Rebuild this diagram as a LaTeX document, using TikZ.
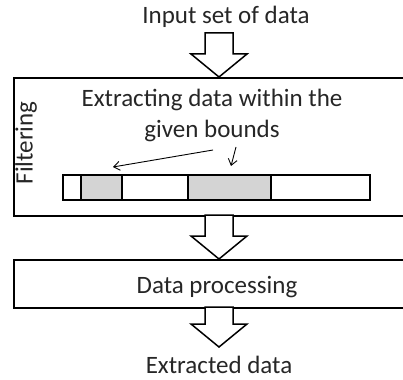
\documentclass[tikz,border=0pt]{standalone}
\usepackage{fontspec}
\setmainfont{Carlito}
\usetikzlibrary{arrows.meta,calc}
\tikzset{
  lbl/.style={font=\fontsize{25}{30}\selectfont, inner sep=0pt, anchor=base, text=black!85},
  stage/.style={draw, line width=1.8pt, anchor=north west, inner sep=0pt},
  cell/.style={draw, line width=1.6pt, anchor=north west, inner sep=0pt, minimum height=25},
  hole/.style={cell, fill=black!17},
  blockarr/.style={draw, line width=1.5pt, fill=white, line join=miter},
  pointer/.style={line width=0.9pt, -{Straight Barb[length=6pt,width=9pt]}},
}
% block arrow: shaft from #1 down to the tip at #2
\newcommand\blockarrow[2]{%
  \draw[blockarr] let \p1=(#1), \p2=(#2) in
    (\x2-14pt,\y1) -- (\x2+14pt,\y1) -- (\x2+14pt,\y2+23pt) -- (\x2+28pt,\y2+23pt)
    -- (\x2,\y2) -- (\x2-28pt,\y2+23pt) -- (\x2-14pt,\y2+23pt) -- cycle;}
\begin{document}
\begin{tikzpicture}[x=1pt,y=-1pt]
\clip (0,0) rectangle (403,379);

% stages
\node[stage, minimum width=420, minimum height=138] (filter) at (13,77) {};
\node[stage, minimum width=420, minimum height=48] (proc) at (13,259) {};

% texts
\node[lbl] (input) at (226,24) {Input set of data};
\node[lbl] (ext1) at (212,107) {Extracting data within the};
\node[lbl] (ext2) at (212,138) {given bounds};
\node[lbl, anchor=center, rotate=90] (filt) at (26,143) {Filtering};
\node[lbl] (dp) at (217,293) {Data processing};
\node[lbl] (out) at (219,373) {Extracted data};

% data bar
\node[cell, minimum width=18] (c1) at (62,174) {};
\node[hole, minimum width=41] (c2) at (80,174) {};
\node[cell, minimum width=66] (c3) at (121,174) {};
\node[hole, minimum width=83] (c4) at (187,174) {};
\node[cell, minimum width=99] (c5) at (270,174) {};

% pointers to the selected ranges
\coordinate (s1) at (213,150);
\coordinate (t1) at (113,167);
\coordinate (s2) at (236,147);
\coordinate (t2) at (231,166);
\draw[pointer] (s1) -- (t1);
\draw[pointer] (s2) -- (t2);

% flow arrows
\coordinate (a1) at (219,33);
\coordinate (a2) at (219,215);
\coordinate (a3) at (219,307);
\coordinate (b3) at (219,347);
\blockarrow{a1}{filter.north -| a1}
\blockarrow{a2}{proc.north -| a2}
\blockarrow{a3}{b3}
\end{tikzpicture}
\end{document}
